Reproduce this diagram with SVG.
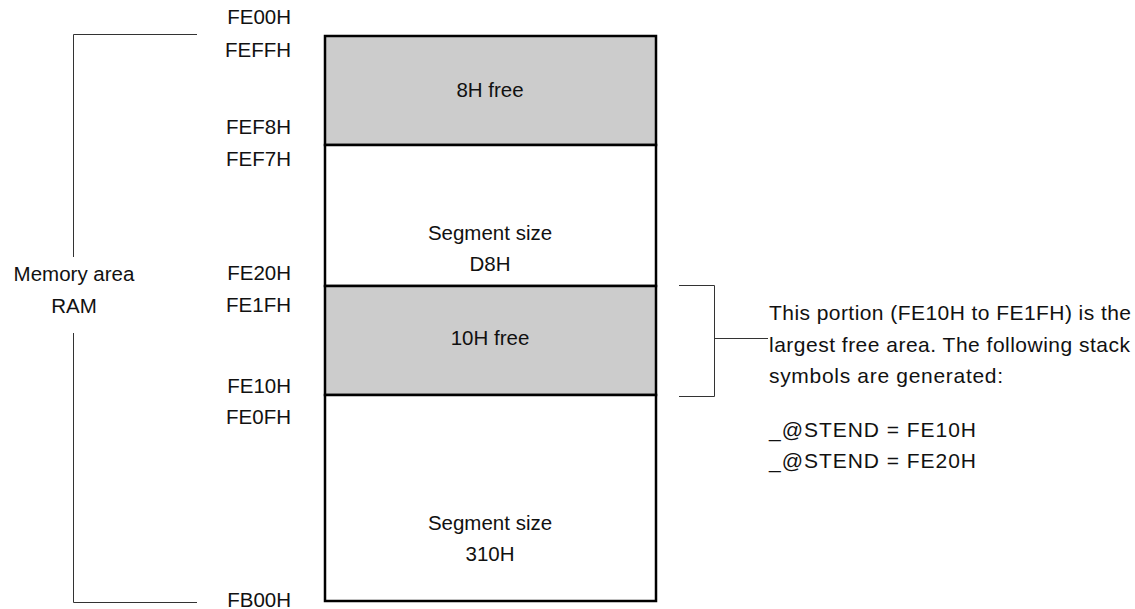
<svg xmlns="http://www.w3.org/2000/svg" width="1135" height="609" viewBox="0 0 1135 609">
<style>
text{font-family:"Liberation Sans",Arial,sans-serif;font-size:20.5px;fill:#111}
.r{text-anchor:end}
.m{text-anchor:middle}
.box{stroke:#000;stroke-width:2.5}
.thin{stroke:#333;stroke-width:1;fill:none}
.n{font-size:21px}
</style>
<rect width="1135" height="609" fill="#fff"/>
<g id="connectors">
<polyline class="thin" points="197,34.5 73.5,34.5 73.5,257"/>
<polyline class="thin" points="73.5,333 73.5,602.5 197,602.5"/>
<polyline class="thin" points="679,285.5 714.5,285.5 714.5,396.5 679,396.5"/>
<line class="thin" x1="714.5" y1="338.5" x2="768" y2="338.5"/>
</g>
<g id="seg-8h-free">
<rect class="box" x="325" y="36" width="331" height="109" fill="#cccccc"/>
<text class="m" x="490" y="97">8H free</text>
</g>
<g id="seg-d8h">
<rect class="box" x="325" y="145" width="331" height="141" fill="#fff"/>
<text class="m" x="490" y="240">Segment size</text>
<text class="m" x="490" y="271">D8H</text>
</g>
<g id="seg-10h-free">
<rect class="box" x="325" y="286" width="331" height="109" fill="#cccccc"/>
<text class="m" x="490" y="345">10H free</text>
</g>
<g id="seg-310h">
<rect class="box" x="325" y="395" width="331" height="206" fill="#fff"/>
<text class="m" x="490" y="530">Segment size</text>
<text class="m" x="490" y="561">310H</text>
</g>
<g id="addresses">
<text class="r" x="291" y="24">FE00H</text>
<text class="r" x="291" y="57">FEFFH</text>
<text class="r" x="291" y="134">FEF8H</text>
<text class="r" x="291" y="166">FEF7H</text>
<text class="r" x="291" y="280">FE20H</text>
<text class="r" x="291" y="312">FE1FH</text>
<text class="r" x="291" y="393">FE10H</text>
<text class="r" x="291" y="424">FE0FH</text>
<text class="r" x="291" y="607">FB00H</text>
</g>
<g id="memory-label">
<text class="m" x="74" y="281">Memory area</text>
<text class="m" x="74" y="313">RAM</text>
</g>
<g id="note">
<text class="n" x="769" y="320" textLength="362" lengthAdjust="spacing">This portion (FE10H to FE1FH) is the</text>
<text class="n" x="769" y="352" textLength="361" lengthAdjust="spacing">largest free area. The following stack</text>
<text class="n" x="769" y="383" textLength="234" lengthAdjust="spacing">symbols are generated:</text>
<text class="n" x="769" y="437" textLength="207" lengthAdjust="spacing">_@STEND = FE10H</text>
<text class="n" x="769" y="468" textLength="207" lengthAdjust="spacing">_@STEND = FE20H</text>
</g>
</svg>
